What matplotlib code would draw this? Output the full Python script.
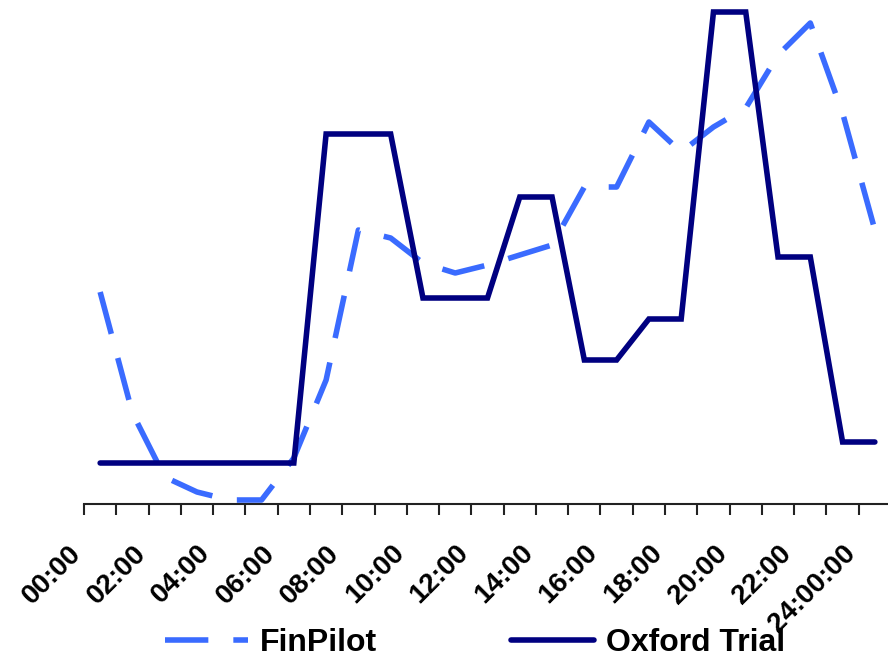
import matplotlib.pyplot as plt
import matplotlib.transforms as mtransforms
import numpy as np

hours = np.arange(25)
tick_labels = ["00:00", "02:00", "04:00", "06:00", "08:00", "10:00", "12:00",
               "14:00", "16:00", "18:00", "20:00", "22:00", "24:00:00"]

finpilot = [212, 91, 27, 12, 4, 4, 46, 124, 274, 266, 241, 231, 239,
            249, 259, 317, 317, 382, 352, 377, 396, 449, 481, 391, 274]
oxford = [41, 41, 41, 41, 41, 41, 41, 370, 370, 370, 206, 206, 206,
          307, 307, 144, 144, 185, 185, 492, 492, 247, 247, 62, 62]

plt.rcParams['font.family'] = ['Liberation Sans', 'DejaVu Sans']

fig = plt.figure(figsize=(8.88, 6.59), dpi=100)
ax = fig.add_axes([84 / 888, (659 - 504) / 659, (891 - 84) / 888, 504 / 659])

ax.plot(hours, finpilot, color="#3A6BFF", linewidth=4, dashes=(7.8, 4.5),
        label="FinPilot")
ax.plot(hours, oxford, color="#000080", linewidth=4, label="Oxford Trial",
        solid_joinstyle="miter", solid_capstyle="round")

ax.set_xlim(-0.5, 24.5)
ax.set_ylim(0, 504)

for s in ["top", "right", "left"]:
    ax.spines[s].set_visible(False)
ax.spines["bottom"].set_linewidth(1.5)
ax.spines["bottom"].set_color("#222222")
ax.set_yticks([])

# ticks on category boundaries, labels on every second category centre
ax.set_xticks(np.arange(-0.5, 25, 1))
ax.set_xticklabels([])
ax.tick_params(axis="x", which="major", direction="out", length=8, width=1.5,
               color="#222222")

ax.set_xticks(hours[::2], minor=True)
ax.set_xticklabels(tick_labels, minor=True, rotation=45, ha="right", va="top",
                   rotation_mode="anchor", fontsize=20, fontweight="bold")
ax.tick_params(axis="x", which="minor", length=0, pad=26)
offset = mtransforms.ScaledTranslation(-32 / 100, 0, fig.dpi_scale_trans)
for lab in ax.xaxis.get_minorticklabels():
    lab.set_transform(lab.get_transform() + offset)

fig.legend(loc="lower left", bbox_to_anchor=(165 / 888, 1 / 659), ncol=2,
           frameon=False, borderpad=0, borderaxespad=0, handlelength=2.6,
           handletextpad=0.37, columnspacing=4.2,
           prop={"size": 23, "weight": "bold"})

fig.savefig("out.png", dpi=100)
